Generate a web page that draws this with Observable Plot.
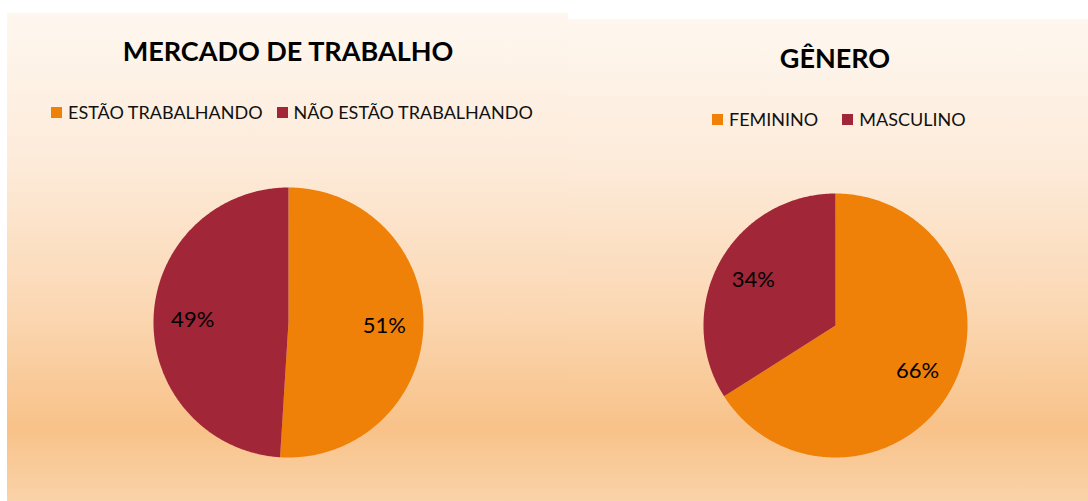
<!DOCTYPE html>
<html>
<head>
<meta charset="utf-8">
<script src="https://cdn.jsdelivr.net/npm/d3@7"></script>
<script src="https://cdn.jsdelivr.net/npm/@observablehq/plot@0.6"></script>
<style>
  html, body { margin: 0; padding: 0; background: #ffffff; width: 1088px; height: 501px; overflow: hidden; font-family: Lato, "Open Sans", sans-serif; }
  .panel { position: absolute; background: linear-gradient(to bottom, #fef7ef 0%, #fdebda 30%, #fbd8b4 60%, #f8c289 85%, #fad3a9 100%); }
  .title { position: absolute; font-weight: bold; color: #000; white-space: nowrap; transform: translateX(-50%); }
  .legend { position: absolute; display: flex; align-items: center; font-size: 18px; color: #111; white-space: nowrap; }
  .legend .sw { width: 11px; height: 11px; display: inline-block; margin-right: 6px; }
  .legend .item { display: flex; align-items: center; }
  .pie { position: absolute; }
</style>
</head>
<body>
<div class="panel" style="left:7px; top:13px; width:561px; height:488px;"></div>
<div class="panel" style="left:568px; top:19px; width:520px; height:482px;"></div>
<div id="root"></div>
<script>
// ---- data ----
const mercadoTitle = "MERCADO DE TRABALHO";
const mercadoCategories = ["ESTÃO TRABALHANDO", "NÃO ESTÃO TRABALHANDO"];
const mercadoValues = [51, 49];

const generoTitle = "GÊNERO";
const generoCategories = ["FEMININO", "MASCULINO"];
const generoValues = [66, 34];

const sliceColors = ["#ef8109", "#a12637"];

// ---- helpers ----
function arcPoints(categories, values, radius) {
  const rows = categories.map((c, i) => ({cat: c, v: values[i], i}));
  const arcs = d3.pie().sort(null).value(d => d.v)(rows);
  const slices = arcs.map(a => {
    const pts = [{x: 0, y: 0}];
    const n = Math.max(2, Math.ceil((a.endAngle - a.startAngle) / 0.01));
    for (let k = 0; k <= n; k++) {
      const t = a.startAngle + (a.endAngle - a.startAngle) * k / n;
      pts.push({x: radius * Math.sin(t), y: radius * Math.cos(t)});
    }
    pts.push({x: 0, y: 0});
    return {cat: a.data.cat, i: a.data.i, pts};
  });
  const labels = arcs.map(a => {
    const m = (a.startAngle + a.endAngle) / 2;
    return {x: 0.71 * radius * Math.sin(m), y: 0.71 * radius * Math.cos(m), text: a.data.v + "%"};
  });
  return {slices, labels};
}

function drawPie(categories, values, radius, left, top) {
  const {slices, labels} = arcPoints(categories, values, radius);
  const size = 300;
  const marks = slices.map(s => Plot.line(s.pts, {x: "x", y: "y", fill: sliceColors[s.i], stroke: "none", curve: "linear"}));
  marks.push(Plot.text(labels, {x: "x", y: "y", text: "text", fontSize: 22, fill: "#000", fontFamily: "Lato, sans-serif"}));
  const svg = Plot.plot({
    width: size, height: size, margin: 0,
    x: {domain: [-size/2, size/2], axis: null},
    y: {domain: [-size/2, size/2], axis: null},
    style: {background: "transparent", overflow: "visible"},
    marks
  });
  const wrap = document.createElement("div");
  wrap.className = "pie";
  wrap.style.left = left + "px";
  wrap.style.top = top + "px";
  wrap.appendChild(svg);
  document.getElementById("root").appendChild(wrap);
}

function addTitle(text, cx, top, size) {
  const d = document.createElement("div");
  d.className = "title";
  d.style.left = cx + "px";
  d.style.top = top + "px";
  d.style.fontSize = size + "px";
  d.textContent = text;
  document.getElementById("root").appendChild(d);
}

function addLegend(categories, left, top, gap) {
  const d = document.createElement("div");
  d.className = "legend";
  d.style.left = left + "px";
  d.style.top = top + "px";
  categories.forEach((c, i) => {
    const it = document.createElement("span");
    it.className = "item";
    if (i > 0) it.style.marginLeft = gap + "px";
    const sw = document.createElement("span");
    sw.className = "sw";
    sw.style.background = sliceColors[i];
    it.appendChild(sw);
    const t = document.createElement("span");
    t.textContent = c;
    it.appendChild(t);
    d.appendChild(it);
  });
  document.getElementById("root").appendChild(d);
}

addTitle(mercadoTitle, 288, 34, 27);
addTitle(generoTitle, 835, 41, 27);
addLegend(mercadoCategories, 51, 101, 14);
addLegend(generoCategories, 712, 108, 24);
drawPie(mercadoCategories, mercadoValues, 135, 288 - 150, 322 - 150);
drawPie(generoCategories, generoValues, 132, 835 - 150, 325 - 150);
</script>
</body>
</html>
